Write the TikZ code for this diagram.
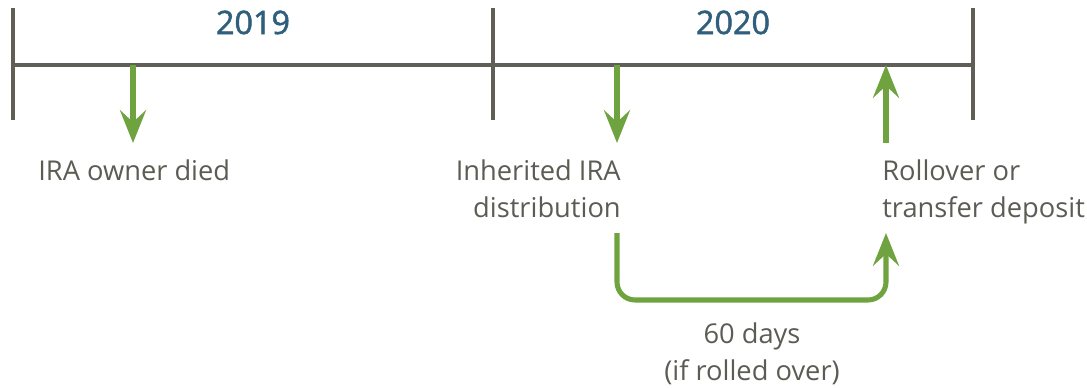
\documentclass[tikz,border=0pt]{standalone}
\usepackage{fontspec}
\setmainfont{Open Sans}
\newfontfamily\yearfont{Open Sans}[FakeBold=1.6]
\usepackage{tikz}
\usetikzlibrary{arrows.meta, positioning}
\definecolor{lineGray}{HTML}{5F5F58}
\definecolor{textGray}{HTML}{5C5C54}
\definecolor{yearBlue}{HTML}{2F5F7D}
\definecolor{arrowGreen}{HTML}{6FA33F}

\begin{document}
\begin{tikzpicture}[x=0.025cm,y=-0.025cm,
  axis/.style={lineGray, line width=2.2pt},
  event/.style={arrowGreen, line width=3.6pt, -{Stealth[length=0.82cm,width=0.65cm,inset=0.3cm]}},
  label/.style={textGray, font=\fontsize{19.4}{26.3}\selectfont, inner sep=0pt},
  year/.style={yearBlue, font=\yearfont\fontsize{23}{28}\selectfont, inner sep=0pt}]
\useasboundingbox (0,0) rectangle (1087,388);
% timeline
\coordinate (t0) at (13,65);
\coordinate (t1) at (493,65);
\coordinate (t2) at (973,65);
\foreach \x/\n in {13/t0, 493/t1, 973/t2}{
  \coordinate (\n top) at (\x,8);
  \coordinate (\n bot) at (\x,120);
  \draw[axis] (\n top) -- (\n bot);
}
\draw[axis] (t0) -- (t2);
\node[year, anchor=base] (y2019) at (253,34) {2019};
\node[year, anchor=base] (y2020) at (733,34) {2020};

% events
\coordinate (died) at (133,65);
\coordinate (diedtip) at (133,143);
\coordinate (dist) at (617,65);
\coordinate (disttip) at (617,143);
\coordinate (rollbase) at (886,143);
\coordinate (roll) at (886,65);
\draw[event] (died) -- (diedtip);
\draw[event] (dist) -- (disttip);
\draw[event] (rollbase) -- (roll);

% base anchor of a two-line node sits on its last line
\node[label, anchor=base west] (ownerdied) at (38,180) {IRA owner died};
\node[label, anchor=base east, align=right] (distrib) at (621,217) {Inherited IRA\\distribution};
\node[label, anchor=base west, align=left] (rollover) at (882,217) {Rollover or\\transfer deposit};

% 60 day window
\coordinate (loopstart) at (617,233);
\coordinate (loopL) at (617,300);
\coordinate (loopR) at (886,300);
\coordinate (loopend) at (886,233);
\draw[event, rounded corners=0.45cm] (loopstart) -- (loopL) -- (loopR) -- (loopend);
\node[label, anchor=base, align=center] (window) at (752,380) {60 days\\(if rolled over)};
\end{tikzpicture}
\end{document}
